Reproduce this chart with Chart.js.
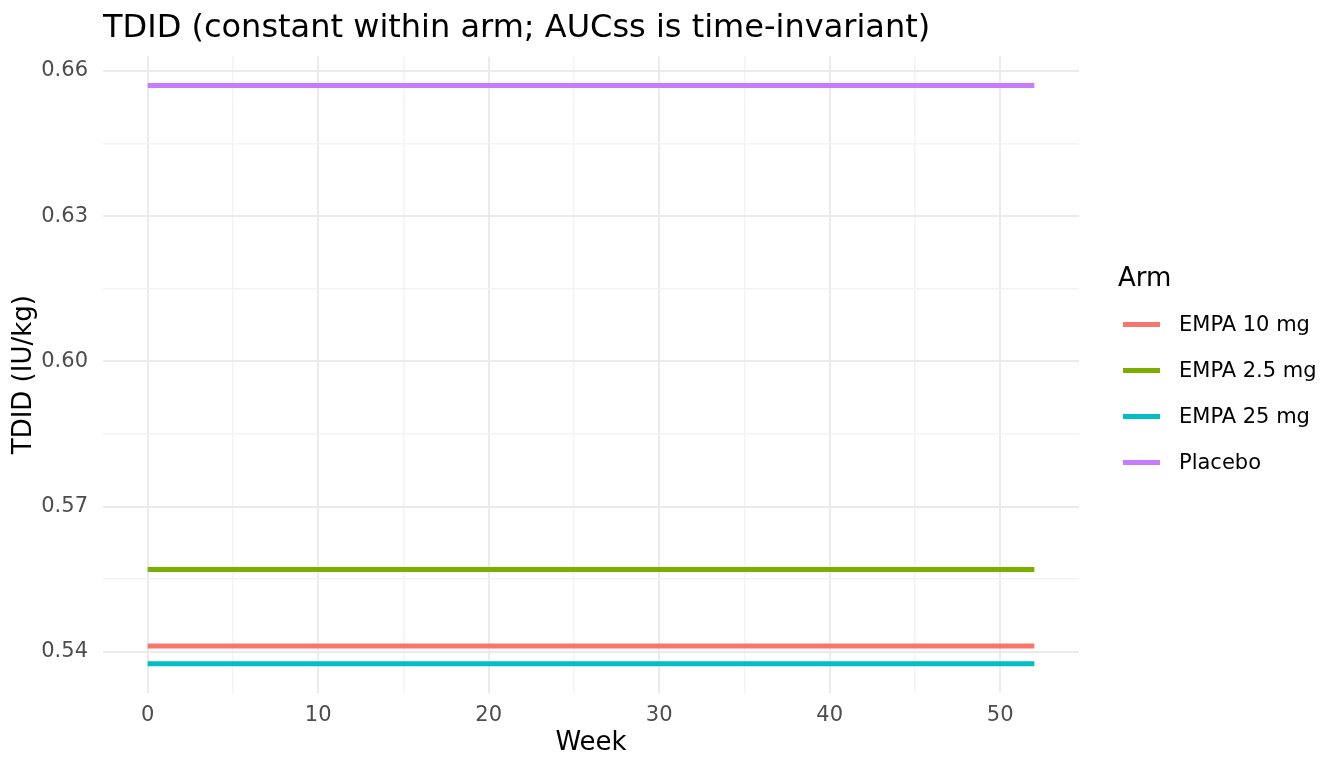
<!DOCTYPE html>
<html>
<head>
<meta charset="utf-8">
<script src="https://cdn.jsdelivr.net/npm/chart.js@4.4.1/dist/chart.umd.min.js"></script>
<style>
  html, body { margin: 0; padding: 0; background: #fff; }
  body { width: 1344px; height: 768px; position: relative; overflow: hidden; font-family: "DejaVu Sans", sans-serif; }
  #chart { position: absolute; left: 0; top: 0; }
  #title { position: absolute; left: 103px; top: 10px; font-size: 32px; line-height: 32px; color: #000; white-space: nowrap; }
  #legend { position: absolute; left: 1118px; top: 0; }
  #legend .ltitle { position: absolute; left: 0; top: 262px; font-size: 26px; line-height: 30px; color: #000; white-space: nowrap; }
  #legend .row { position: absolute; left: 5px; height: 30px; display: flex; align-items: center; white-space: nowrap; }
  #legend .key { width: 37px; height: 5px; margin-right: 19px; }
  #legend .lab { font-size: 21px; color: #000; }
</style>
</head>
<body>
<canvas id="chart" width="1344" height="768"></canvas>
<div id="title">TDID (constant within arm; AUCss is time-invariant)</div>
<div id="legend"></div>
<script>
// --- données ---
const weeks = [0, 52];
const arms = ["EMPA 10 mg", "EMPA 2.5 mg", "EMPA 25 mg", "Placebo"];
const armColors = ["#F8766D", "#7CAE00", "#00BFC4", "#C77CFF"];
const tdidEmpa10 = [0.5412, 0.5412];
const tdidEmpa25mg = [0.5570, 0.5570]; // EMPA 2.5 mg
const tdidEmpa25 = [0.5375, 0.5375];
const tdidPlacebo = [0.6570, 0.6570];
const seriesValues = [tdidEmpa10, tdidEmpa25mg, tdidEmpa25, tdidPlacebo];

const xMajorTicks = [0, 10, 20, 30, 40, 50];
const xMinorTicks = [5, 15, 25, 35, 45];
const yMajorTicks = [0.54, 0.57, 0.60, 0.63, 0.66];
const yMinorTicks = [0.555, 0.585, 0.615, 0.645];

const MAJOR = "#ebebeb", MINOR = "#f3f3f3";
const isMajor = (list, v) => list.some(t => Math.abs(t - v) < 1e-9);

const datasets = arms.map((name, i) => ({
    label: name,
    data: weeks.map((w, j) => ({ x: w, y: seriesValues[i][j] })),
    borderColor: armColors[i],
    backgroundColor: armColors[i],
    borderWidth: 5,
    pointRadius: 0,
    tension: 0,
    fill: false
}));

// Légende HTML
const legend = document.getElementById("legend");
legend.innerHTML = '<div class="ltitle">Arm</div>';
arms.forEach((name, i) => {
    const row = document.createElement("div");
    row.className = "row";
    row.style.top = (309 + i * 46) + "px";
    row.innerHTML = `<div class="key" style="background:${armColors[i]}"></div><div class="lab">${name}</div>`;
    legend.appendChild(row);
});

const tickFont = { family: "DejaVu Sans", size: 21 };
const titleFont = { family: "DejaVu Sans", size: 26 };

new Chart(document.getElementById("chart"), {
    type: "line",
    data: { datasets },
    options: {
        responsive: false,
        animation: false,
        devicePixelRatio: 1,
        layout: { padding: { top: 56.6, right: 265, left: 0, bottom: 0 } },
        plugins: { legend: { display: false }, title: { display: false }, tooltip: { enabled: false } },
        scales: {
            x: {
                type: "linear",
                min: -2.62,
                max: 54.62,
                afterBuildTicks: s => { s.ticks = [...xMajorTicks, ...xMinorTicks].sort((a, b) => a - b).map(v => ({ value: v })); },
                afterFit: s => { s.height = 75.3; },
                ticks: {
                    autoSkip: false,
                    maxRotation: 0,
                    padding: 10,
                    color: "#4d4d4d",
                    font: tickFont,
                    callback: v => isMajor(xMajorTicks, v) ? String(v) : ""
                },
                grid: {
                    drawTicks: false,
                    color: c => isMajor(xMajorTicks, c.tick.value) ? MAJOR : MINOR,
                    lineWidth: c => isMajor(xMajorTicks, c.tick.value) ? 2 : 1.5
                },
                border: { display: false },
                title: { display: true, text: "Week", color: "#000", font: titleFont, padding: { top: 0, bottom: 9 } }
            },
            y: {
                type: "linear",
                min: 0.53153,
                max: 0.66298,
                afterBuildTicks: s => { s.ticks = [...yMajorTicks, ...yMinorTicks].sort((a, b) => a - b).map(v => ({ value: v })); },
                afterFit: s => { s.width = 103; },
                ticks: {
                    autoSkip: false,
                    padding: 15,
                    color: "#4d4d4d",
                    font: tickFont,
                    callback: v => isMajor(yMajorTicks, v) ? v.toFixed(2) : ""
                },
                grid: {
                    drawTicks: false,
                    color: c => isMajor(yMajorTicks, c.tick.value) ? MAJOR : MINOR,
                    lineWidth: c => isMajor(yMajorTicks, c.tick.value) ? 2 : 1.5
                },
                border: { display: false },
                title: { display: true, text: "TDID (IU/kg)", color: "#000", font: titleFont, padding: { top: 9, bottom: 0 } }
            }
        }
    }
});
</script>
</body>
</html>
